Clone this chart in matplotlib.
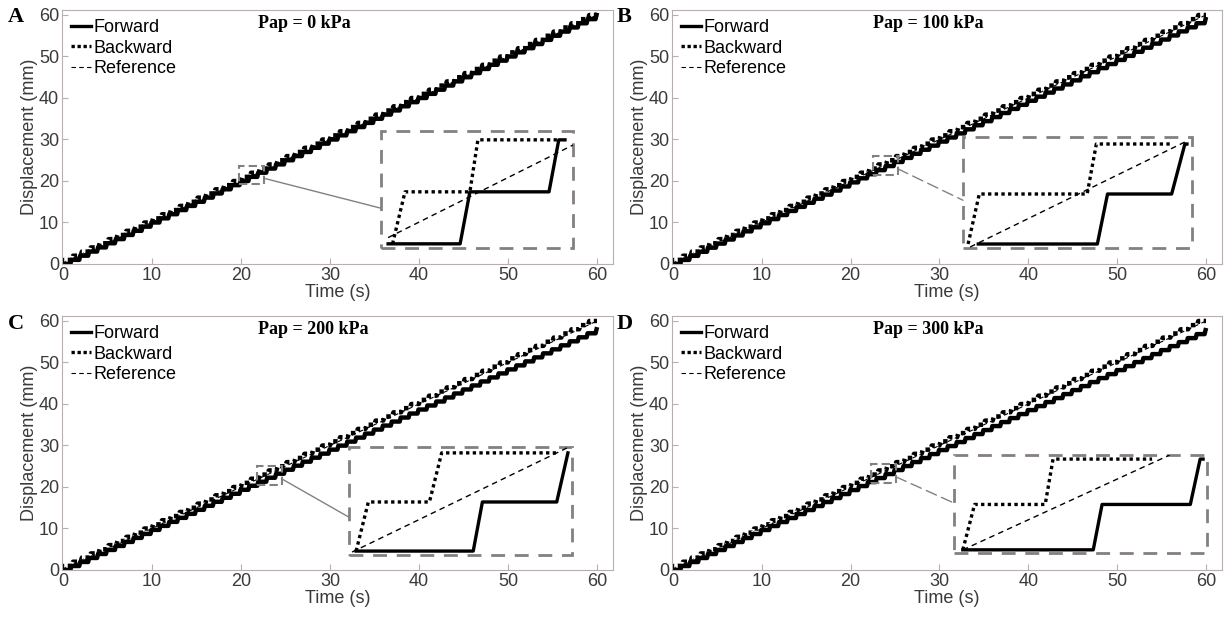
import numpy as np
import matplotlib.pyplot as plt
from matplotlib.patches import Rectangle, ConnectionPatch

plt.rcParams['font.family'] = ['Liberation Sans', 'DejaVu Sans']

# ---- data ----
panel_letters = ['A', 'B', 'C', 'D']
pap_labels = ['Pap = 0 kPa', 'Pap = 100 kPa', 'Pap = 200 kPa', 'Pap = 300 kPa']
n_steps = 60                       # one step per second
fwd_end = [60.0, 59.0, 58.0, 57.8]  # final displacement, forward (mm)
bwd_end = [60.0, 60.0, 60.0, 60.0]  # final displacement, backward (mm)
ref_t = [0, 60]
ref_y = [0, 60]

# zoomed windows shown in the insets: t0, t1, y0, y1
inset_win = [(19.9, 22.06, 19.92, 22.17),
             (23.0, 25.25, 22.92, 25.14),
             (22.0, 24.19, 21.92, 24.12),
             (22.0, 24.58, 21.93, 24.09)]
# small marker boxes on the main plots: t0, y0, t1, y1
src_box = [(19.8, 19.2, 22.6, 23.7),
           (22.5, 21.5, 25.3, 26.0),
           (21.8, 20.5, 24.6, 25.0),
           (22.3, 21.0, 25.1, 25.5)]

# inset traces
in_fwd_t = [[19.98, 20.79, 20.90, 21.79, 21.90, 21.97],
            [23.15, 24.32, 24.42, 25.05, 25.18, 25.20],
            [22.07, 23.22, 23.31, 24.04, 24.15],
            [22.09, 23.42, 23.51, 24.41, 24.51, 24.54]]
in_fwd_y = [[20, 20, 21, 21, 22, 22],
            [23, 23, 24, 24, 25, 25],
            [22, 22, 23, 23, 24],
            [22, 22, 23, 23, 24, 24]]
in_bwd_t = [[20.03, 20.17, 20.90, 20.99, 21.91],
            [23.05, 23.16, 24.22, 24.31, 25.06],
            [22.07, 22.19, 22.79, 22.91, 24.05],
            [22.09, 22.21, 22.93, 23.01, 24.02]]
in_bwd_y = [[20, 21, 21, 22, 22],
            [23, 24, 24, 25, 25],
            [22, 23, 23, 24, 24],
            [22, 23, 23, 24, 24]]
in_ref_t = [[19.98, 22.06], [23.07, 25.18], [22.03, 24.14], [22.09, 24.20]]
in_ref_y = [[20.12, 21.90], [22.94, 25.04], [21.98, 24.10], [22.00, 24.09]]
conn_frac = [0.34, 0.43, 0.35, 0.51]


def staircase(end, lead):
    k = np.arange(n_steps)
    h = end / n_steps
    if lead:   # backward: rises at start of each second
        t = np.column_stack([k, k + 0.13, k + 1]).ravel()
        y = np.column_stack([k * h, (k + 1) * h, (k + 1) * h]).ravel()
    else:      # forward: rises at end of each second
        t = np.column_stack([k, k + 0.84, k + 0.95]).ravel()
        y = np.column_stack([k * h, k * h, (k + 1) * h]).ravel()
    return t, y


W, H = 1226, 620
fig = plt.figure(figsize=(12.26, 6.2), dpi=100)

main_px = [(62, 10, 551, 254), (672, 10, 550, 254),
           (62, 316, 551, 254), (672, 316, 550, 254)]
inset_px = [(381, 131, 573, 248), (963, 137, 1192, 248),
            (349, 447, 572, 555), (954, 455, 1207, 553)]
letter_px = [(8, 17), (617, 17), (8, 324), (617, 324)]
pap_px = [(258, 23), (873, 23), (258, 329), (873, 329)]
conn_style = ['-', (0, (8, 4)), '-', (0, (8, 4))]

txt_col = '#3a3a3a'
spine_col = '#b8b0b0'
gray = '#858080'

for i in range(4):
    x, y, w, h = main_px[i]
    ax = fig.add_axes([x / W, 1 - (y + h) / H, w / W, h / H])
    ft, fy = staircase(fwd_end[i], False)
    bt, by = staircase(bwd_end[i], True)
    ax.plot(ft, fy, color='black', lw=3.2, label='Forward')
    ax.plot(bt, by, color='black', lw=3.2, ls=(0, (1, 0.8)), label='Backward')
    ax.plot(ref_t, ref_y, color='black', lw=0.8, ls=(0, (4, 3)), label='Reference')
    ax.set_xlim(-0.1, 61.8)
    ax.set_ylim(0, 61.2)
    ax.set_xticks(range(0, 61, 10))
    ax.set_yticks(range(0, 61, 10))
    ax.tick_params(direction='in', length=4, color=spine_col, labelsize=13,
                   labelcolor=txt_col, pad=2)
    for s in ax.spines.values():
        s.set_color(spine_col)
    ax.set_xlabel('Time (s)', fontsize=13, color=txt_col, labelpad=0)
    ax.set_ylabel('Displacement (mm)', fontsize=13, color=txt_col, labelpad=1)
    leg = ax.legend(loc='upper left', frameon=False, fontsize=13, handlelength=1.1,
                    handletextpad=0.15, labelspacing=0.2, borderaxespad=0.2,
                    borderpad=0.3)
    for ln in leg.get_lines():
        ln.set_linewidth(2.4 if ln.get_label() != 'Reference' else 0.8)

    # marker box on the main curve
    b = src_box[i]
    ax.add_patch(Rectangle((b[0], b[1]), b[2] - b[0], b[3] - b[1], fill=False,
                           ec=gray, lw=1.5, ls=(0, (4, 2)), zorder=5))

    # inset
    x0, y0, x1, y1 = inset_px[i]
    ins = fig.add_axes([x0 / W, 1 - y1 / H, (x1 - x0) / W, (y1 - y0) / H])
    ins.plot(in_fwd_t[i], in_fwd_y[i], color='black', lw=2.4)
    ins.plot(in_bwd_t[i], in_bwd_y[i], color='black', lw=2.4, ls=(0, (1, 1)))
    ins.plot(in_ref_t[i], in_ref_y[i], color='black', lw=1.0, ls=(0, (4, 3)))
    win = inset_win[i]
    ins.set_xlim(win[0], win[1])
    ins.set_ylim(win[2], win[3])
    ins.set_xticks([])
    ins.set_yticks([])
    ins.patch.set_alpha(0)
    for s in ins.spines.values():
        s.set_visible(False)
    ins.add_patch(Rectangle((0, 0), 1, 1, transform=ins.transAxes, fill=False,
                            ec=gray, lw=2.0, ls=(0, (5, 3.5)), clip_on=False))

    con = ConnectionPatch(xyA=(b[2], (b[1] + b[3]) / 2 - 0.8), coordsA=ax.transData,
                          xyB=(0, conn_frac[i]), coordsB=ins.transAxes,
                          color=gray, lw=1.0, ls=conn_style[i])
    fig.add_artist(con)

    lx, ly = letter_px[i]
    fig.text(lx / W, 1 - ly / H, panel_letters[i], fontsize=16, fontweight='bold',
             family='Liberation Serif', va='center', ha='left')
    px, py = pap_px[i]
    fig.text(px / W, 1 - py / H, pap_labels[i], fontsize=13, fontweight='bold',
             family='Liberation Serif', va='center', ha='left')

fig.savefig('out.png', dpi=100)
